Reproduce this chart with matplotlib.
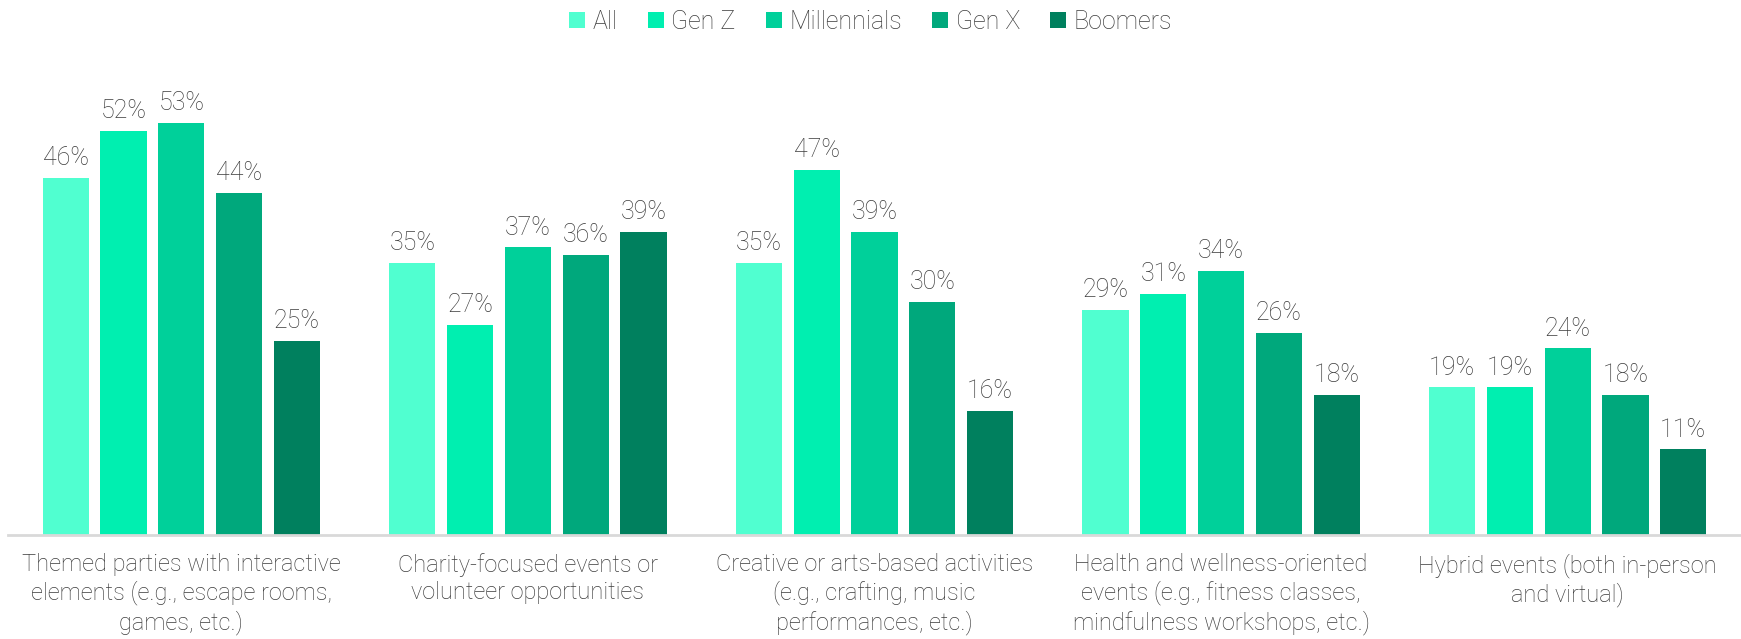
import numpy as np
import matplotlib.pyplot as plt
from matplotlib.patches import Patch

categories = [
    "Themed parties with interactive\nelements (e.g., escape rooms,\ngames, etc.)",
    "Charity-focused events or\nvolunteer opportunities",
    "Creative or arts-based activities\n(e.g., crafting, music\nperformances, etc.)",
    "Health and wellness-oriented\nevents (e.g., fitness classes,\nmindfulness workshops, etc.)",
    "Hybrid events (both in-person\nand virtual)",
]
series = ["All", "Gen Z", "Millennials", "Gen X", "Boomers"]
all_ = [46, 35, 35, 29, 19]
gen_z = [52, 27, 47, 31, 19]
millennials = [53, 37, 39, 34, 24]
gen_x = [44, 36, 30, 26, 18]
boomers = [25, 39, 16, 18, 11]
values = [all_, gen_z, millennials, gen_x, boomers]
colors = ["#50FFD0", "#00EFB0", "#00D09A", "#00A87C", "#00805E"]

plt.rcParams["font.family"] = ["Roboto", "DejaVu Sans"]
plt.rcParams["font.weight"] = "light"
text_color = "#3C3C3C"

fig = plt.figure(figsize=(17.41, 6.39), dpi=100)
ax = fig.add_axes([8 / 1741, 0.1628, 1 - 8 / 1741, 0.7296])

centers = np.arange(len(categories)) * 6 + 3
for j, (name, vals, c) in enumerate(zip(series, values, colors)):
    x = centers + (j - 2)
    ax.bar(x, vals, width=0.8, color=c, label=name)
    for xi, v in zip(x, vals):
        ax.text(xi, v + 1.0, f"{v}%", ha="center", va="bottom",
                fontsize=18, color=text_color, fontweight="light")

ax.set_xlim(0, 30)
ax.set_ylim(0, 60)
ax.set_yticks([])
ax.set_xticks(centers)
ax.set_xticklabels(categories, fontsize=17, color=text_color,
                   linespacing=1.25, fontweight="light")
ax.tick_params(axis="x", length=0, pad=13)
for s in ["top", "right", "left"]:
    ax.spines[s].set_visible(False)
ax.spines["bottom"].set_color("#D9D9D9")
ax.spines["bottom"].set_linewidth(2)

handles = [Patch(facecolor=c, label=n) for n, c in zip(series, colors)]
fig.legend(handles=handles, loc="upper center", bbox_to_anchor=(0.5, 1.02),
           ncol=5, frameon=False, labelcolor=text_color,
           handlelength=0.65, handleheight=0.65, handletextpad=0.3,
           columnspacing=1.2, prop={"weight": "light", "size": 18})

fig.savefig("out.png", dpi=100)
